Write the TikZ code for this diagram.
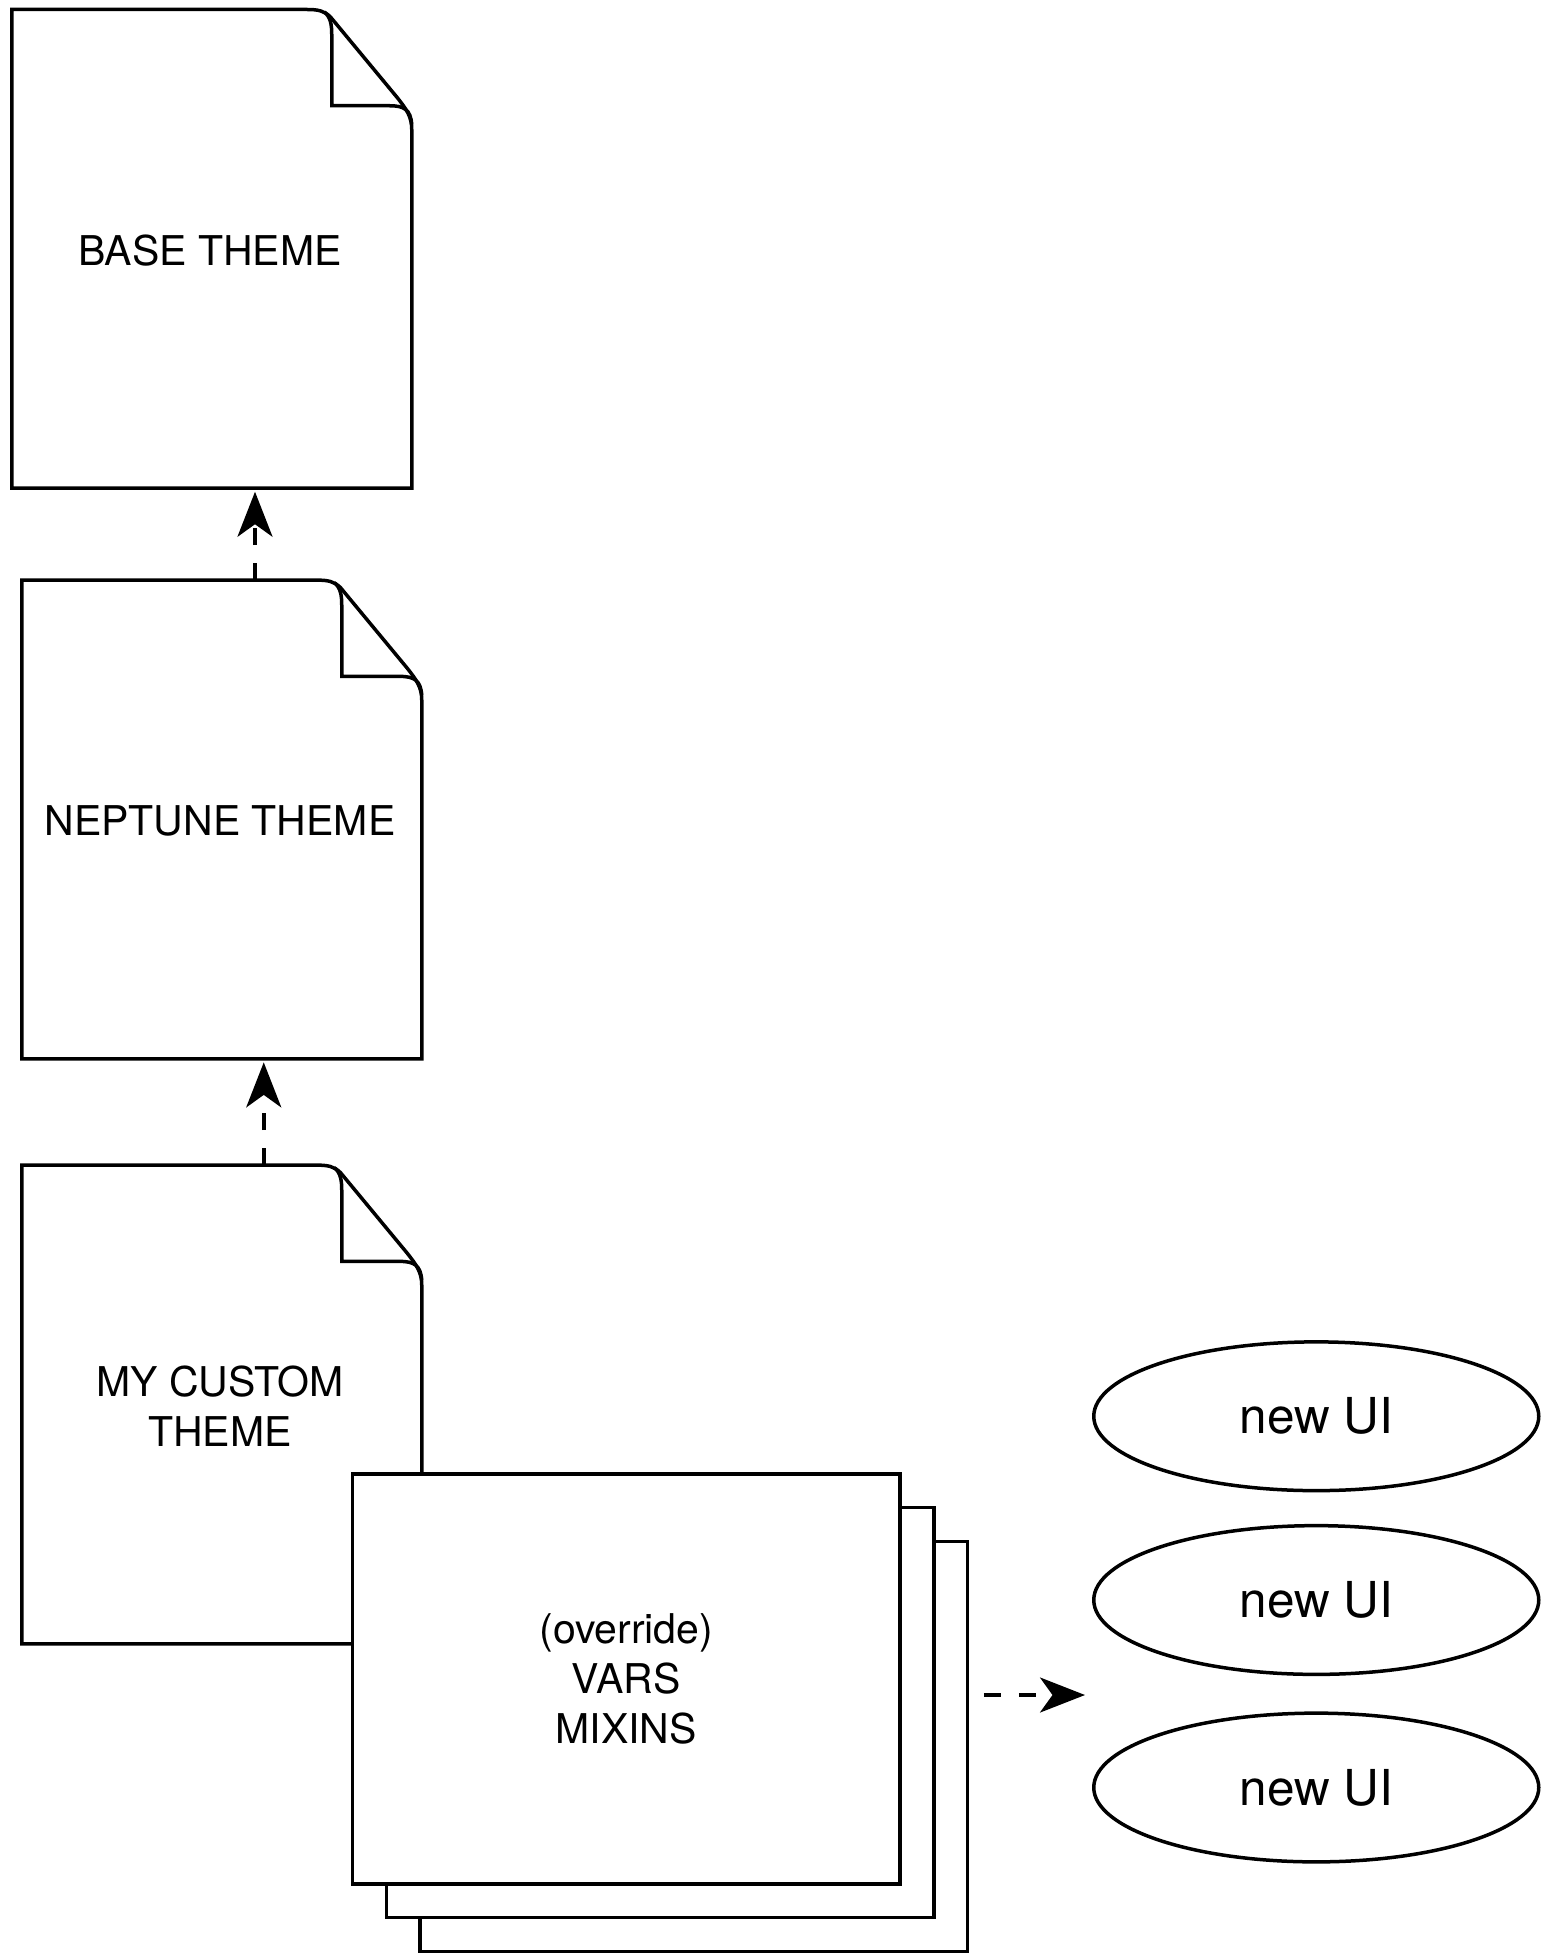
\documentclass[tikz,border=0pt]{standalone}
\usepackage{fontspec}
\setmainfont{TeX Gyre Heros}
\usetikzlibrary{arrows.meta,shapes.geometric}

% outline of a page with a folded corner, round the node #1
\newcommand{\docpage}[1]{%
\draw[shift={(#1.north east)}] (-320,0) -- (-84,0) .. controls (-75,0) and (-70,1) .. (-65,6)
  -- (-12,70) .. controls (-4,80) and (0,86) .. (0,96) -- (0,383) -- (-320,383) -- cycle;
\draw[shift={(#1.north east)}] (-70,2) .. controls (-65,6) and (-64,12) .. (-64,20)
  -- (-64,77) -- (-18,77) .. controls (-6,77) and (-1,80) .. (0,92);
}

\begin{document}
\begin{tikzpicture}[x=0.5pt,y=-0.5pt,line width=1.4pt,
  docnode/.style={minimum width=160pt,minimum height=191.5pt,inner sep=0pt,align=center,
    font=\fontsize{16.4}{20}\selectfont},
  sheet/.style={draw,fill=white,minimum width=219pt,minimum height=164pt,inner sep=0pt,
    align=center,font=\fontsize{16.4}{20}\selectfont},
  ui/.style={draw,ellipse,minimum width=178pt,minimum height=59.5pt,inner sep=0pt,
    font=\fontsize{19.8}{24}\selectfont},
  dasharrow/.style={dash pattern=on 7pt off 7pt,-{Stealth[length=18pt,width=14pt,inset=5pt]}}]

\useasboundingbox (0,0) rectangle (1236,1566.4);

% theme files
\node (base) at (168,200.5) [docnode] {BASE THEME};
\docpage{base}

\node (neptune) at (176,657) [docnode] {NEPTUNE THEME};
\docpage{neptune}

\node (custom) at (176,1125) [docnode] {MY CUSTOM\\THEME};
\docpage{custom}

% stack of sheets
\node (varsc) at (555,1397) [sheet] {};
\node (varsb) at (528,1370) [sheet] {};
\node (vars) at (501,1343) [sheet] {(override)\\VARS\\MIXINS};

% outputs
\node (ui1) at (1053,1133) [ui] {new UI};
\node (ui2) at (1053,1280) [ui] {new UI};
\node (ui3) at (1053,1430) [ui] {new UI};

\draw[dasharrow] ([xshift=14pt]neptune.north) -- ([xshift=14pt]neptune.north |- base.south);
\draw[dasharrow] ([xshift=17.5pt]custom.north) -- ([xshift=17.5pt]custom.north |- neptune.south);

\coordinate (outa) at (787,1356);
\coordinate (outb) at (868,1356);
\draw[dasharrow] (outa) -- (outb);

\end{tikzpicture}
\end{document}
